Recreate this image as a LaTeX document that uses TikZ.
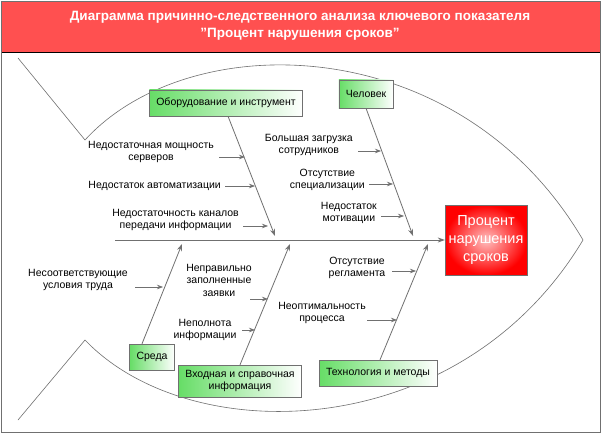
\documentclass[tikz,border=0pt]{standalone}
\usepackage{fontspec}
\setmainfont{Liberation Sans}
\usetikzlibrary{arrows.meta}
\definecolor{ttl}{HTML}{FF5050}
\definecolor{grn}{HTML}{66DD66}
\definecolor{ln}{HTML}{707070}
\begin{document}
\begin{tikzpicture}[x=1pt,y=-1pt,
 cat/.style={draw=ln,left color=grn,right color=white,font=\fontsize{10.5}{12}\selectfont,align=center,inner xsep=7pt,minimum height=26pt},
 cause/.style={font=\fontsize{10.5}{12.5}\selectfont,align=center,inner sep=1pt},
 bone/.style={draw=ln,line width=0.8pt,-{Stealth[length=7pt,width=5pt]}},
 sm/.style={draw=ln,line width=0.7pt,-{Stealth[length=6pt,width=4.5pt]}},
 fish/.style={draw=ln,line width=0.6pt}]
\useasboundingbox (0,0) rectangle (601,433);
\fill[white] (0,0) rectangle (601,433);
\fill[ttl] (1,1) rectangle (600,52);
\draw[black] (1,52) -- (600,52);
\draw[ln] (1,1) rectangle (600,432);
\node[font=\bfseries\fontsize{13.5}{17}\selectfont,text=white,align=center] (title) at (300,26) {Диаграмма причинно-следственного анализа ключевого показателя\\\char"22 Процент нарушения сроков\char"22};
% fish outline
\coordinate (t1) at (18,58); \coordinate (t2) at (85,140);
\coordinate (tip) at (583,240);
\coordinate (t3) at (85,340); \coordinate (t4) at (18,420);
\draw[fish] (t1) -- (t2) .. controls (190,25) and (460,30) .. (tip) .. controls (460,445) and (190,450) .. (t3) -- (t4);
% head
\node[draw=ln,minimum width=82pt,minimum height=70pt,inner color=red!25!white,outer color=red,text=white,font=\fontsize{14.5}{18}\selectfont,align=center] (head) at (486,240) {Процент\\нарушения\\сроков};
\coordinate (sp) at (115,240);
\draw[bone] (sp) -- (head.west);
% categories
\node[cat] (c1) at (226,103) {Оборудование и инструмент};
\node[cat,minimum height=28pt] (c2) at (366,94) {Человек};
\node[cat] (c3) at (152,357) {Среда};
\node[cat,minimum height=32pt] (c4) at (240,381) {Входная и справочная\\информация};
\node[cat] (c5) at (378,373) {Технология и методы};
\coordinate (e1) at (275,236);
\coordinate (e2) at (413,236);
\coordinate (e3) at (182,244);
\coordinate (e4) at (290,244);
\coordinate (e5) at (428,244);
\draw[bone] (c1.south) ++(2,0) coordinate (s1) -- (e1);
\draw[bone] (c2.south) coordinate (s2) -- (e2);
\draw[bone] (c3.north) ++(-10,0) coordinate (s3) -- (e3);
\draw[bone] (c4.north) coordinate (s4) -- (e4);
\draw[bone] (c5.north) ++(2,0) coordinate (s5) -- (e5);
% causes
\node[cause,anchor=east] (a1) at (215,152) {Недостаточная мощность\\серверов};
\node[cause,anchor=east] (a2) at (222,186) {Недостаток автоматизации};
\node[cause,anchor=east] (a3) at (240,220) {Недостаточность каналов\\передачи информации};
\draw[sm] (219,157) -- (245,157);
\draw[sm] (225,186) -- (255,186);
\draw[sm] (243,226) -- (268,226);
\node[cause,anchor=east] (b1) at (354,145) {Большая загрузка\\сотрудников};
\node[cause,anchor=east] (b2) at (366,180) {Отсутствие\\специализации};
\node[cause,anchor=east] (b3) at (378,213) {Недостаток\\мотивации};
\draw[sm] (358,151) -- (381,151);
\draw[sm] (369,184) -- (393,184);
\draw[sm] (381,216) -- (404,216);
\node[cause] (d1) at (78,280) {Несоответствующие\\условия труда};
\draw[sm] (135,287) -- (163,287);
\node[cause] (f1) at (219,280) {Неправильно\\заполненные\\заявки};
\node[cause] (f2) at (205,330) {Неполнота\\информации};
\draw[sm] (250,299) -- (268,299);
\draw[sm] (242,330) -- (255,330);
\node[cause] (g1) at (357,268) {Отсутствие\\регламента};
\node[cause] (g2) at (322,313) {Неоптимальность\\процесса};
\draw[sm] (392,271) -- (416,271);
\draw[sm] (367,320) -- (397,320);
\end{tikzpicture}
\end{document}
